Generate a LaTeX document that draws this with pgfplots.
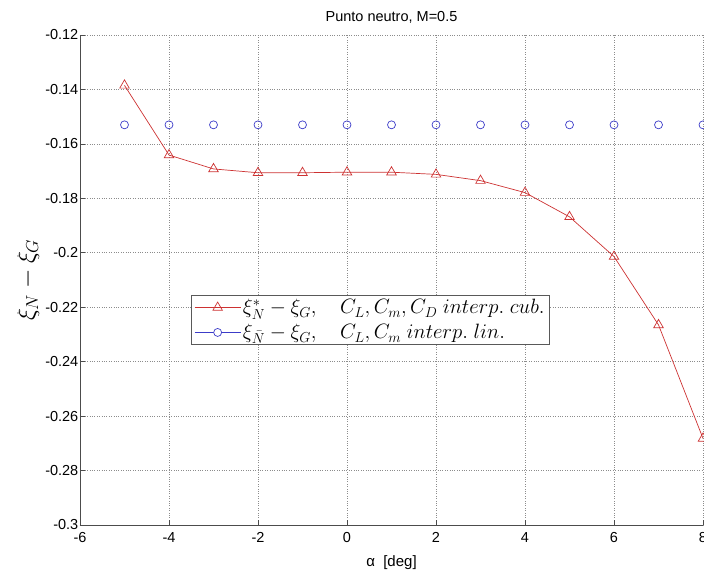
\documentclass[border=0pt]{standalone}
\usepackage{fontspec}
\setmainfont{Liberation Sans}
\usepackage{pgfplots}
\pgfplotsset{compat=1.18}
\definecolor{rc}{RGB}{205,50,50}
\definecolor{bc}{RGB}{60,60,200}
\begin{document}
\begin{tikzpicture}
\begin{axis}[
  at={(80pt,48pt)}, anchor=south west,
  width=623pt, height=490pt, scale only axis,
  xmin=-6, xmax=8, ymin=-0.3, ymax=-0.12,
  xtick={-6,-4,-2,0,2,4,6,8}, xticklabels={-6,-4,-2,0,2,4,6,8},
  ytick={-0.3,-0.28,-0.26,-0.24,-0.22,-0.2,-0.18,-0.16,-0.14,-0.12},
  yticklabels={-0.3,-0.28,-0.26,-0.24,-0.22,-0.2,-0.18,-0.16,-0.14,-0.12},
  axis x line*=bottom, axis y line*=left,
  axis line style={black!70, line width=0.8pt, -},
  tick align=inside, major tick length=5pt, tick style={black!70, line width=0.6pt},
  grid=major, grid style={dotted, black!45, line width=0.6pt},
  ticklabel style={font=\fontsize{14.5}{16}\selectfont},
  xticklabel style={inner sep=2pt, yshift=-5pt},
  yticklabel style={inner sep=1.5pt},
  title={Punto neutro, M=0.5}, title style={font=\fontsize{14.5}{16}\selectfont, yshift=2pt},
  xlabel={α\ \ [deg]}, xlabel style={font=\fontsize{15}{17}\selectfont, inner sep=1pt, yshift=-10pt},
  ylabel={$\xi_N-\xi_G$}, ylabel style={font=\fontsize{26}{28}\selectfont, yshift=1pt},
  legend style={at={(rel axis cs:0.178,0.469)}, anchor=north west,
    draw=black!65, line width=0.8pt, fill=white,
    inner xsep=3pt, inner ysep=2pt, row sep=5pt,
    font=\fontsize{20}{22}\selectfont,
    /tikz/every even column/.append style={column sep=2pt}},
  legend cell align=left,
  legend image code/.code={\draw[mark repeat=2,mark phase=2,#1] plot coordinates {(0pt,0pt)(23pt,0pt)(46pt,0pt)};},
]
\addplot[rc, line width=0.7pt, mark=triangle, mark size=5.5pt, mark options={solid, line width=0.7pt}]
coordinates {(-5,-0.1385) (-4,-0.1641) (-3,-0.1692) (-2,-0.1706) (-1,-0.1706) (0,-0.1704) (1,-0.1704) (2,-0.1712) (3,-0.1735) (4,-0.1779) (5,-0.1868) (6,-0.2014) (7,-0.2265) (8,-0.2682)};
\addlegendentry{$\xi^*_N-\xi_G,\quad C_L,C_m,C_D\ interp.\;cub.$}
\addplot[bc, only marks, mark=o, mark size=4pt, mark options={line width=0.7pt},
  legend image code/.code={\draw[bc, line width=0.7pt] (0pt,0pt)--(46pt,0pt); \draw[bc, line width=0.7pt, fill=white] (23pt,0pt) circle (4pt);}]
coordinates {(-5,-0.153) (-4,-0.153) (-3,-0.153) (-2,-0.153) (-1,-0.153) (0,-0.153) (1,-0.153) (2,-0.153) (3,-0.153) (4,-0.153) (5,-0.153) (6,-0.153) (7,-0.153) (8,-0.153)};
\addlegendentry{$\xi_{\bar N}-\xi_G,\quad C_L,C_m\ interp.\;lin.$}
\end{axis}
\pgfresetboundingbox
\path[use as bounding box] (0,0) rectangle (704pt,573pt);
\end{tikzpicture}
\end{document}
